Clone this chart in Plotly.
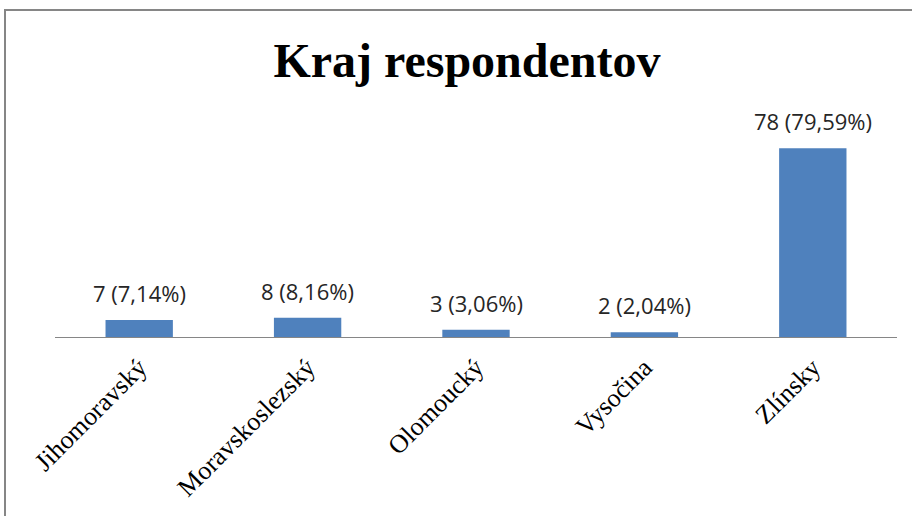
import plotly.graph_objects as go

# údaje z grafu
kraje = ["Jihomoravský", "Moravskoslezský", "Olomoucký", "Vysočina", "Zlínsky"]
pocty = [7, 8, 3, 2, 78]
percenta = ["7,14%", "8,16%", "3,06%", "2,04%", "79,59%"]

labels = [f"{n} ({p})" for n, p in zip(pocty, percenta)]

fig = go.Figure(go.Bar(
    x=kraje,
    y=pocty,
    marker=dict(color="#4F81BD", line=dict(width=0)),
    width=0.4,
))

# popisky nad stĺpcami
for k, n, t in zip(kraje, pocty, labels):
    fig.add_annotation(
        x=k, y=n, text=t, showarrow=False,
        yanchor="bottom", yshift=10,
        font=dict(family="Open Sans, Liberation Sans, sans-serif", size=22, color="#262626"),
    )

fig.update_layout(
    width=912,
    height=516,
    margin=dict(l=55, r=15, t=95, b=179, autoexpand=False),
    plot_bgcolor="white",
    paper_bgcolor="white",
    showlegend=False,
    title=dict(
        text="<b>Kraj respondentov</b>",
        x=0.512, xanchor="center",
        y=1 - 60 / 516, yanchor="middle",
        font=dict(family="Liberation Serif, Times New Roman, serif", size=48, color="black"),
    ),
    xaxis=dict(
        tickangle=-45,
        automargin=False,
        ticklabelstandoff=4,
        tickfont=dict(family="Liberation Serif, Times New Roman, serif", size=26, color="black"),
        showline=True, linecolor="#868686", linewidth=1,
        showgrid=False, ticks="",
    ),
    yaxis=dict(range=[0, 100], visible=False, showgrid=False, zeroline=False, automargin=False),
    shapes=[dict(
        type="rect", xref="paper", yref="paper",
        x0=(5 - 55) / 842, x1=1.2, y0=-1.5, y1=(337 - 10) / 242,
        line=dict(color="#868686", width=2), fillcolor="rgba(0,0,0,0)", layer="below",
    )],
)

fig.write_html(
    "out.html",
    config={"displayModeBar": False},
    post_script="document.body.style.margin='0';",
)
